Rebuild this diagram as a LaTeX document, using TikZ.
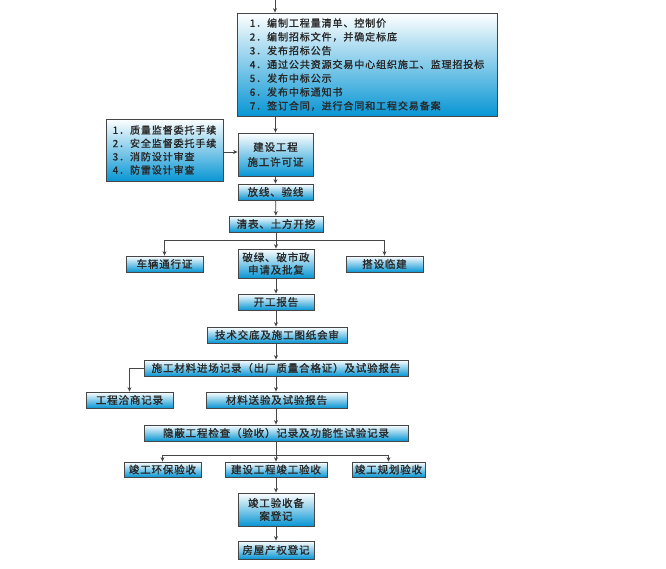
\documentclass[tikz,border=0pt]{standalone}
\usepackage{fontspec}
\setmainfont{Noto Sans CJK SC}
\usetikzlibrary{arrows.meta,shadows}
\definecolor{boxblue}{RGB}{8,150,212}
\definecolor{edge}{RGB}{70,70,70}
\definecolor{txt}{RGB}{40,40,40}
\tikzset{
  box/.style={draw=edge, line width=0.8pt, top color=white, bottom color=boxblue,
    inner sep=0pt, align=center, text=txt,
    font=\fontsize{10.5}{14}\selectfont\addfontfeature{LetterSpace=8,FakeBold=1.2},
    drop shadow={shadow xshift=1pt, shadow yshift=-1pt, opacity=0.35}},
  listfont/.style={font=\fontsize{10}{#1}\selectfont\addfontfeature{LetterSpace=9,FakeBold=1.2}},
  link/.style={draw=edge, line width=0.8pt},
  arr/.style={link, -{Stealth[length=4.5pt,width=4pt]}},
}
\begin{document}
\begin{tikzpicture}[x=1pt,y=-1pt]
\useasboundingbox[fill=white] (0,0) rectangle (666,568);

\node[box, minimum width=260pt, minimum height=103pt, align=left, listfont=13.8] (plan) at (367,64.5)
  {1．编制工程量清单、控制价\\2．编制招标文件，并确定标底\\3．发布招标公告\\4．通过公共资源交易中心组织施工、监理招投标\\5．发布中标公示\\6．发布中标通知书\\7．签订合同，进行合同和工程交易备案};
\node[box, minimum width=117pt, minimum height=62pt, align=left, listfont=13.3] (qual) at (164.5,150)
  {1．质量监督委托手续\\2．安全监督委托手续\\3．消防设计审查\\4．防雷设计审查};
\node[box, minimum width=75pt, minimum height=43pt, font=\fontsize{10.5}{15}\selectfont\addfontfeature{LetterSpace=8,FakeBold=1.2}] (permit) at (275.5,154.5) {建设工程\\施工许可证};
\node[box, minimum width=75pt, minimum height=16pt] (setout) at (275.5,192) {放线、验线};
\node[box, minimum width=94pt, minimum height=16pt] (clear) at (276,224) {清表、土方开挖};
\node[box, minimum width=77pt, minimum height=16pt] (vehicle) at (164.5,264) {车辆通行证};
\node[box, minimum width=76pt, minimum height=29pt, font=\fontsize{10.5}{12.5}\selectfont\addfontfeature{LetterSpace=8,FakeBold=1.2}] (green) at (276,263.5) {破绿、破市政\\申请及批复};
\node[box, minimum width=77pt, minimum height=16pt] (temp) at (384.5,264) {搭设临建};
\node[box, minimum width=76pt, minimum height=16pt] (start) at (276,302) {开工报告};
\node[box, minimum width=140pt, minimum height=16pt] (tech) at (277,335) {技术交底及施工图纸会审};
\node[box, minimum width=264pt, minimum height=16pt] (mat) at (276,368) {施工材料进场记录（出厂质量合格证）及试验报告};
\node[box, minimum width=87pt, minimum height=16pt] (neg) at (129.5,400) {工程洽商记录};
\node[box, minimum width=141pt, minimum height=16pt] (test) at (276.5,400) {材料送验及试验报告};
\node[box, minimum width=264pt, minimum height=16pt] (hidden) at (276,433) {隐蔽工程检查（验收）记录及功能性试验记录};
\node[box, minimum width=77pt, minimum height=15pt] (env) at (162.5,469.5) {竣工环保验收};
\node[box, minimum width=102pt, minimum height=15pt] (done) at (276,469.5) {建设工程竣工验收};
\node[box, minimum width=73pt, minimum height=15pt] (plan2) at (388.5,469.5) {竣工规划验收};
\node[box, minimum width=76pt, minimum height=33pt, font=\fontsize{10.5}{13}\selectfont\addfontfeature{LetterSpace=8,FakeBold=1.2}] (record) at (276,509.5) {竣工验收备\\案登记};
\node[box, minimum width=76pt, minimum height=18pt] (deed) at (276,550) {房屋产权登记};

\coordinate (src) at (275,0);
\coordinate (j1) at (276,240);
\coordinate (j2) at (276,455);

\draw[arr] (src) -- (src |- plan.north);
\draw[arr] (plan.south -| permit) -- (permit.north);
\draw[arr] ([yshift=-2pt]qual.east) -- ([yshift=-2pt]qual.east -| permit.west);
\draw[arr] (permit) -- (setout);
\draw[arr] (setout) -- (clear);
\draw[link] (clear.south) -- (j1);
\draw[link] (vehicle.north |- j1) -- (temp.north |- j1);
\draw[arr] (vehicle.north |- j1) -- (vehicle.north);
\draw[arr] (j1) -- (green.north);
\draw[arr] (temp.north |- j1) -- (temp.north);
\draw[arr] (green) -- (start);
\draw[arr] (start.south) -- (start.south |- tech.north);
\draw[arr] (tech.south -| start) -- (start |- mat.north);
\draw[arr] (mat.south -| start) -- (start |- test.north);
\draw[arr] (mat.west) -| (neg.north);
\draw[arr] (test.south -| start) -- (start |- hidden.north);
\draw[link] (hidden.south -| start) -- (j2);
\draw[link] (env.north |- j2) -- (plan2.north |- j2);
\draw[arr] (env.north |- j2) -- (env.north);
\draw[arr] (j2) -- (done.north);
\draw[arr] (plan2.north |- j2) -- (plan2.north);
\draw[arr] (done) -- (record);
\draw[arr] (record) -- (deed);
\end{tikzpicture}
\end{document}
